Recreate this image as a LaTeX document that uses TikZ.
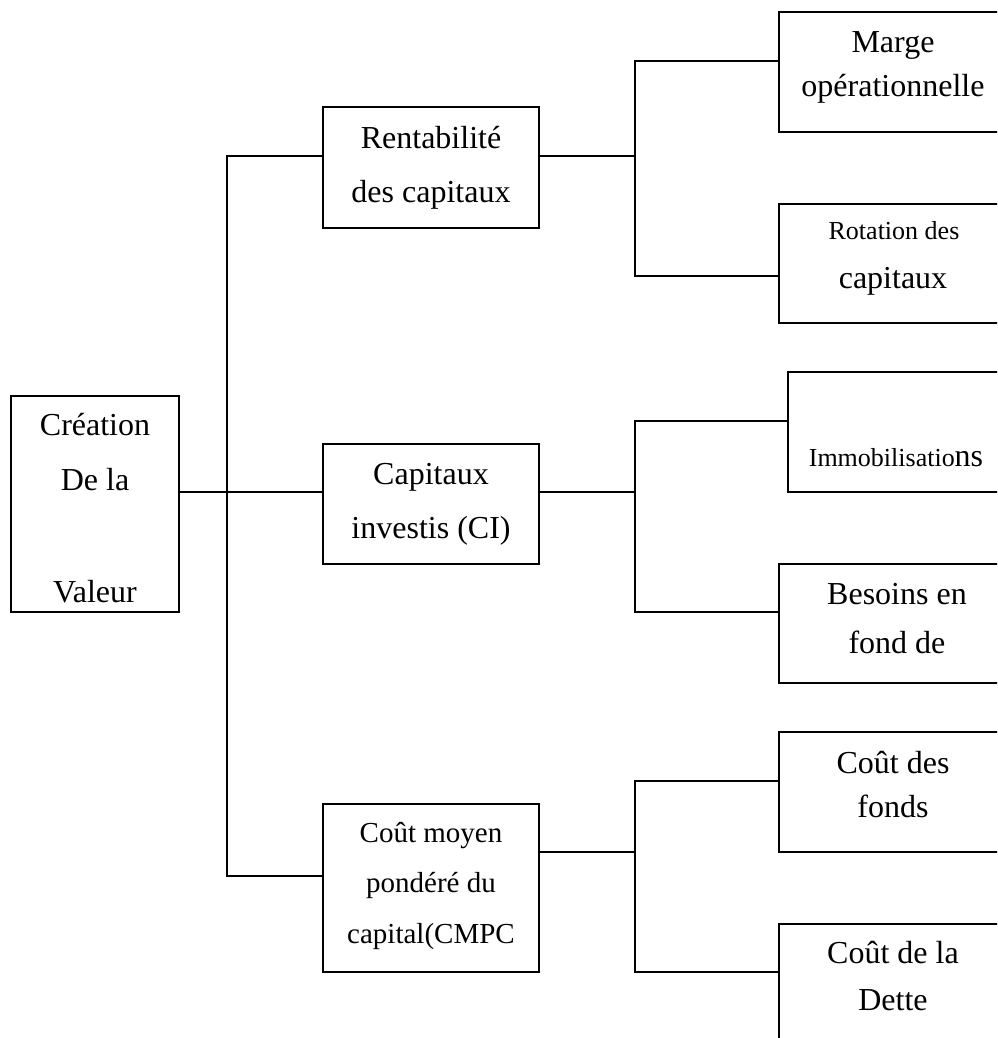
\documentclass[tikz,border=0pt]{standalone}
\usepackage{fontspec}
\setmainfont{Liberation Serif}
\begin{document}
\begin{tikzpicture}[x=1pt,y=-1pt,
  box/.style={draw, line width=1.4pt, rectangle, inner sep=0pt},
  conn/.style={line width=1.4pt},
  txt/.style={anchor=base, inner sep=0pt, font=\fontsize{32}{38}\selectfont},
  txtm/.style={anchor=base, inner sep=0pt, font=\fontsize{29}{34}\selectfont},
  txts/.style={anchor=base, inner sep=0pt, font=\fontsize{26}{31}\selectfont}]
\useasboundingbox (0,0) rectangle (997,1038);
\clip (0,0) rectangle (997,1038);
\fill[white] (0,0) rectangle (997,1038);

% boxes
\node[box, minimum width=168pt, minimum height=216pt] (crea) at (95,504) {};
\node[box, minimum width=216pt, minimum height=121pt] (rent) at (431,167.5) {};
\node[box, minimum width=216pt, minimum height=120pt] (cap) at (431,504) {};
\node[box, minimum width=216pt, minimum height=168pt] (cmpc) at (431,888) {};
\node[box, minimum width=228pt, minimum height=120pt] (marge) at (893,72) {};
\node[box, minimum width=228pt, minimum height=119pt] (rot) at (893,263.5) {};
\node[box, minimum width=219pt, minimum height=120pt] (immo) at (897.5,432) {};
\node[box, minimum width=228pt, minimum height=119pt] (bes) at (893,623.5) {};
\node[box, minimum width=228pt, minimum height=120pt] (fonds) at (893,792) {};
\node[box, minimum width=228pt, minimum height=120pt] (dette) at (893,984) {};

% texts
\node[txt] (t1) at (95,435) {Création};
\node[txt] (t2) at (95,490) {De la};
\node[txt] (t3) at (95,602) {Valeur};
\node[txt] (t4) at (431,148) {Rentabilité};
\node[txt] (t5) at (431,202) {des capitaux};
\node[txt] (t6) at (431,484) {Capitaux};
\node[txt] (t7) at (431,538) {investis (CI)};
\node[txtm] (t8) at (431,842) {Coût moyen};
\node[txtm] (t9) at (431,892) {pondéré du};
\node[txtm] (t10) at (431,943) {capital(CMPC};
\node[txt] (t11) at (893,53) {Marge};
\node[txt] (t12) at (893,97) {opérationnelle};
\node[txts] (t13) at (894,239) {Rotation des};
\node[txt] (t14) at (893,288) {capitaux};
\node[txts] (t15) at (896,466) {Immobilisatio{\fontsize{32}{38}\selectfont ns}};
\node[txt] (t16) at (897,604) {Besoins en};
\node[txt] (t17) at (897,653) {fond de};
\node[txt] (t18) at (893,773) {Coût des};
\node[txt] (t19) at (893,817) {fonds};
\node[txt] (t20) at (893,963) {Coût de la};
\node[txt] (t21) at (893,1010) {Dette};

% junction points
\coordinate (l0) at (227,492);
\coordinate (lt) at (227,156);
\coordinate (lb) at (227,876);
\coordinate (a0) at (635,156);
\coordinate (at) at (635,61);
\coordinate (ab) at (635,276);
\coordinate (b0) at (635,492);
\coordinate (bt) at (635,421);
\coordinate (bb) at (635,612);
\coordinate (c0) at (635,852);
\coordinate (ct) at (635,781);
\coordinate (cb) at (635,972);

% connectors
\draw[conn] (crea.east |- l0) -- (cap.west |- l0);
\draw[conn] (rent.west |- lt) -- (lt) -- (lb) -- (cmpc.west |- lb);
\draw[conn] (rent.east |- a0) -- (a0);
\draw[conn] (marge.west |- at) -- (at) -- (ab) -- (rot.west |- ab);
\draw[conn] (cap.east |- b0) -- (b0);
\draw[conn] (immo.west |- bt) -- (bt) -- (bb) -- (bes.west |- bb);
\draw[conn] (cmpc.east |- c0) -- (c0);
\draw[conn] (fonds.west |- ct) -- (ct) -- (cb) -- (dette.west |- cb);
\end{tikzpicture}
\end{document}
